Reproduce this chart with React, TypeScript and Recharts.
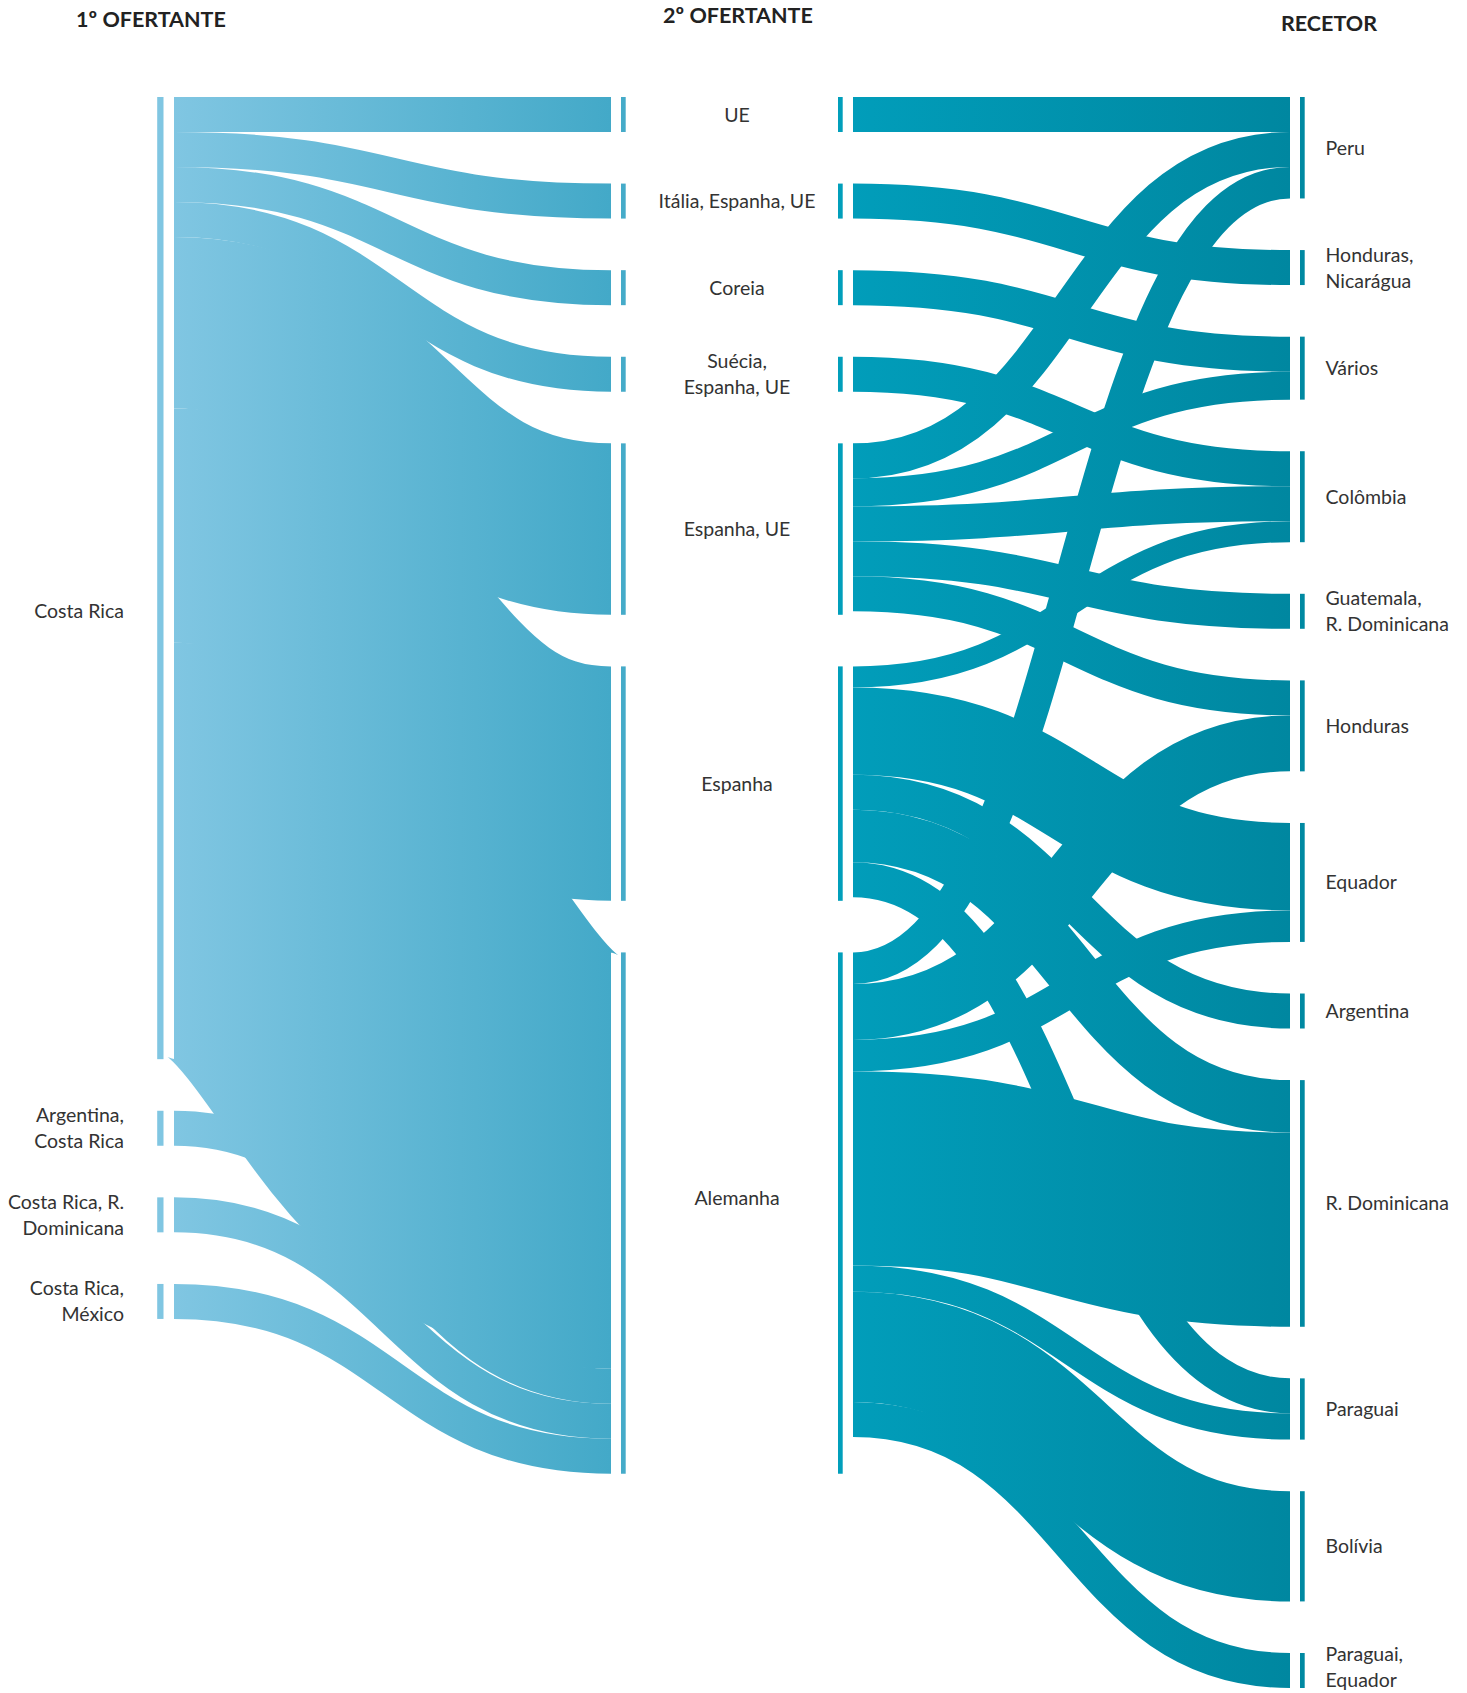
import React from "react";
import { Sankey } from "recharts";

const FIRST_OFFERERS = ["Costa Rica", "Argentina,\nCosta Rica", "Costa Rica, R.\nDominicana", "Costa Rica,\nMéxico"];
const SECOND_OFFERERS = ["UE", "Itália, Espanha, UE", "Coreia", "Suécia,\nEspanha, UE", "Espanha, UE", "Espanha", "Alemanha"];
const RECIPIENTS = [
  "Peru",
  "Honduras,\nNicarágua",
  "Vários",
  "Colômbia",
  "Guatemala,\nR. Dominicana",
  "Honduras",
  "Equador",
  "Argentina",
  "R. Dominicana",
  "Paraguai",
  "Bolívia",
  "Paraguai,\nEquador",
];
const COLUMN_TITLES = ["1º OFERTANTE", "2º OFERTANTE", "RECETOR"];

// 1º ofertante -> 2º ofertante
const FIRST_LINKS: [string, string, number][] = [
  ["Costa Rica", "UE", 1],
  ["Costa Rica", "Itália, Espanha, UE", 1],
  ["Costa Rica", "Coreia", 1],
  ["Costa Rica", "Suécia,\nEspanha, UE", 1],
  ["Costa Rica", "Espanha, UE", 4.9],
  ["Costa Rica", "Espanha", 6.7],
  ["Costa Rica", "Alemanha", 11.9],
  ["Argentina,\nCosta Rica", "Alemanha", 1],
  ["Costa Rica, R.\nDominicana", "Alemanha", 1],
  ["Costa Rica,\nMéxico", "Alemanha", 1],
];

// 2º ofertante -> recetor
const SECOND_LINKS: [string, string, number][] = [
  ["UE", "Peru", 1],
  ["Itália, Espanha, UE", "Honduras,\nNicarágua", 1],
  ["Coreia", "Vários", 1],
  ["Suécia,\nEspanha, UE", "Colômbia", 1],
  ["Espanha, UE", "Peru", 1],
  ["Espanha, UE", "Vários", 0.8],
  ["Espanha, UE", "Colômbia", 1],
  ["Espanha, UE", "Guatemala,\nR. Dominicana", 1],
  ["Espanha, UE", "Honduras", 1],
  ["Espanha", "Colômbia", 0.6],
  ["Espanha", "Equador", 2.5],
  ["Espanha", "Argentina", 1],
  ["Espanha", "R. Dominicana", 1.5],
  ["Espanha", "Paraguai", 1],
  ["Alemanha", "Peru", 0.9],
  ["Alemanha", "Honduras", 1.6],
  ["Alemanha", "Equador", 0.9],
  ["Alemanha", "R. Dominicana", 5.55],
  ["Alemanha", "Paraguai", 0.75],
  ["Alemanha", "Bolívia", 3.15],
  ["Alemanha", "Paraguai,\nEquador", 1],
];

const NAMES = [...FIRST_OFFERERS, ...SECOND_OFFERERS, ...RECIPIENTS];
const nodes = NAMES.map((name) => ({ name }));
const links = [...FIRST_LINKS, ...SECOND_LINKS].map(([s, t, v]) => ({
  source: NAMES.indexOf(s),
  target: NAMES.indexOf(t),
  value: v,
}));

const NODE_W = 242;
const FONT = "Lato, 'Open Sans', sans-serif";
const TEXT = "#333333";
// a few labels sit a little off the middle of their bar
const LABEL_NUDGE: Record<string, number> = { "Costa Rica": 33, "Paraguai,\nEquador": -4, Alemanha: -15 };

const Label = ({ x, cy, anchor, lines }: { x: number; cy: number; anchor: "start" | "middle" | "end"; lines: string[] }) => (
  <text textAnchor={anchor} fontFamily={FONT} fontSize={19.5} fill={TEXT}>
    {lines.map((l, i) => (
      <tspan key={i} x={x} y={cy + (i - (lines.length - 1) / 2) * 26} dy="0.36em">
        {l}
      </tspan>
    ))}
  </text>
);

const renderNode = (props: any) => {
  const { x, y, width, height, payload } = props;
  const name = String(payload.name);
  const lines = name.split("\n");
  const cy = y + height / 2 + (LABEL_NUDGE[name] || 0);
  const depth = payload.depth;
  if (depth === 0) {
    return (
      <g>
        <rect x={x + width - 16.8} y={y} width={6.3} height={height} fill="#80c6e2" />
        <Label x={x + width - 50} cy={cy} anchor="end" lines={lines} />
      </g>
    );
  }
  if (depth === 1) {
    return (
      <g>
        <rect x={x + 10} y={y} width={4.7} height={height} fill="#45abc9" />
        <rect x={x + width - 15} y={y} width={4.7} height={height} fill="#019fbb" />
        <Label x={x + width / 2 + 5} cy={cy} anchor="middle" lines={lines} />
      </g>
    );
  }
  return (
    <g>
      <rect x={x + 10} y={y} width={4.7} height={height} fill="#0089a2" />
      <Label x={x + 35.5} cy={cy} anchor="start" lines={lines} />
    </g>
  );
};

const renderLink = (props: any) => {
  const { sourceX, targetX, sourceY, targetY, sourceControlX, targetControlX, linkWidth, index } = props;
  const left = sourceX < 600;
  const id = `lg-${index}-${Math.round(sourceY)}`;
  return (
    <g>
      <defs>
        <linearGradient id={id} gradientUnits="userSpaceOnUse" x1={sourceX} y1={0} x2={targetX} y2={0}>
          <stop offset="0" stopColor={left ? "#80c6e2" : "#019dba"} />
          <stop offset="1" stopColor={left ? "#43a9c8" : "#0087a0"} />
        </linearGradient>
      </defs>
      <path
        d={`M${sourceX},${sourceY}C${sourceControlX},${sourceY} ${targetControlX},${targetY} ${targetX},${targetY}`}
        fill="none"
        stroke={`url(#${id})`}
        strokeWidth={linkWidth}
      />
    </g>
  );
};

const TITLE_POS = [
  { x: 151, y: 27 },
  { x: 738, y: 23 },
  { x: 1329, y: 31 },
];

export default function App() {
  return (
    <div style={{ position: "fixed", left: 0, top: 0, width: 1467, height: 1693, overflow: "hidden", background: "#fff" }}>
      <div style={{ position: "absolute", left: -68.5, top: 0 }}>
        <Sankey
          width={1600}
          height={1693}
          data={{ nodes, links }}
          nodeWidth={NODE_W}
          nodePadding={51.6}
          iterations={0}
          linkCurvature={0.5}
          margin={{ top: 97, right: 0, bottom: 5, left: 0 }}
          node={renderNode}
          link={renderLink}
        />
      </div>
      <svg width={1467} height={60} style={{ position: "absolute", left: 0, top: 0, pointerEvents: "none" }}>
        {COLUMN_TITLES.map((t, i) => (
          <text key={t} x={TITLE_POS[i].x} y={TITLE_POS[i].y} textAnchor="middle" fontFamily={FONT} fontWeight={700} fontSize={21.5} fill="#222">
            {t}
          </text>
        ))}
      </svg>
    </div>
  );
}
